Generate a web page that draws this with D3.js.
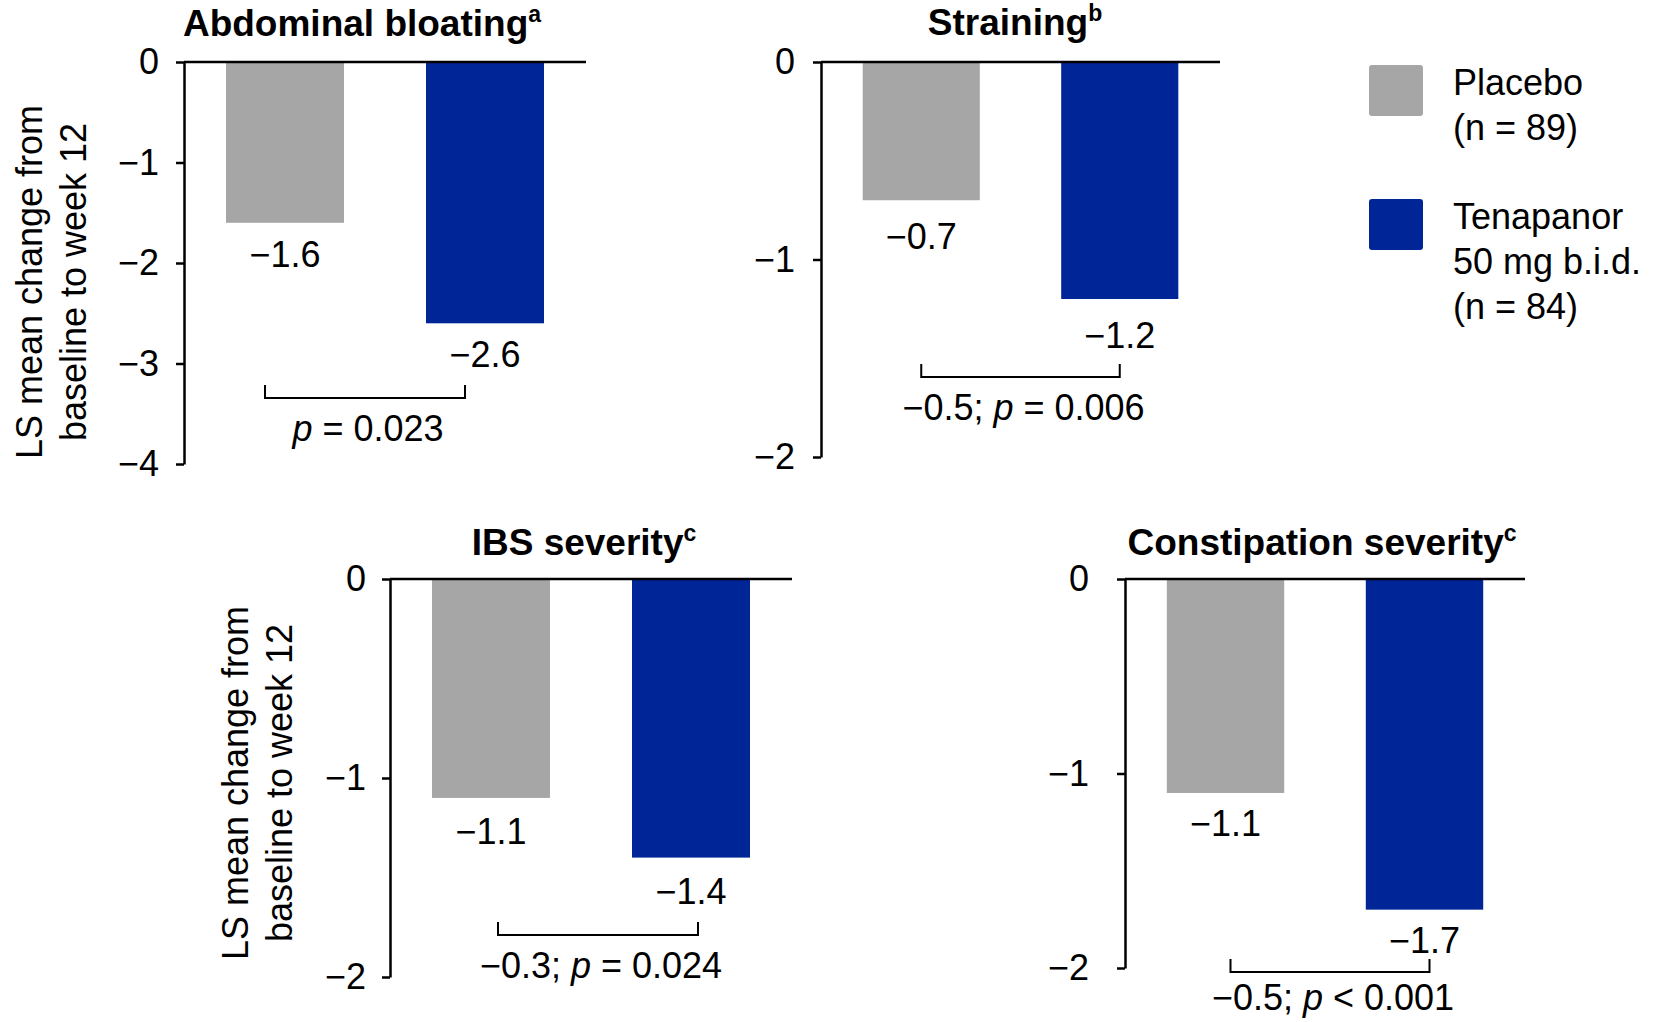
<!DOCTYPE html>
<html>
<head>
<meta charset="utf-8">
<script src="https://cdn.jsdelivr.net/npm/d3@7.9.0/dist/d3.min.js"></script>
<style>
  body { margin: 0; background: #fff; }
  svg text { font-family: "Liberation Sans", Arial, sans-serif; fill: #000; }
</style>
</head>
<body>
<svg id="chart" width="1662" height="1022"></svg>
<script>
// chart data
const panelTitles = ["Abdominal bloating", "Straining", "IBS severity", "Constipation severity"];
const footnotes = ["a", "b", "c", "c"];
const groups = ["Placebo", "Tenapanor"];
const placeboValues = [-1.6, -0.7, -1.1, -1.1];
const tenapanorValues = [-2.6, -1.2, -1.4, -1.7];
const axisMin = [-4, -2, -2, -2];
const tickValues = [[0, -1, -2, -3, -4], [0, -1, -2], [0, -1, -2], [0, -1, -2]];
const differences = [null, -0.5, -0.3, -0.5];
const pTexts = ["= 0.023", "= 0.006", "= 0.024", "< 0.001"];
const yLabelLines = ["LS mean change from", "baseline to week 12"];
const legendLabels = [["Placebo", "(n = 89)"], ["Tenapanor", "50 mg b.i.d.", "(n = 84)"]];
const colors = ["#a6a6a6", "#002596"];

// where each panel sits on the page
const layout = [
    { x0: 184, x1: 586, y0: 62, y1: 464, titleX: 362, titleY: 36, tickPad: 17, valGap: 44, yLabelX: 42, yLabelY: 282, bracketDx: -20, bracketY: 398, pGap: 43 },
    { x0: 821, x1: 1220, y0: 62, y1: 457, titleX: 1015, titleY: 35, tickPad: 18, valGap: 49, bracketDx: 0, bracketY: 377, pGap: 43 },
    { x0: 390, x1: 792, y0: 579, y1: 977, titleX: 584, titleY: 555, tickPad: 16, valGap: 46, yLabelX: 248, yLabelY: 783, bracketDx: 7, bracketY: 935, pGap: 43 },
    { x0: 1125, x1: 1525, y0: 579, y1: 968, titleX: 1322, titleY: 555, tickPad: 28, valGap: 43, bracketDx: 5, bracketY: 972, pGap: 38 }
];

const fmt = v => (v < 0 ? "\u2212" : "") + Math.abs(v);

const svg = d3.select("#chart");

panelTitles.forEach((title, i) => {
    const L = layout[i];
    const g = svg.append("g");

    const x = d3.scaleBand().domain(groups).range([L.x0, L.x1])
        .paddingInner(0.41).paddingOuter(0.21);
    const y = d3.scaleLinear().domain([0, axisMin[i]]).range([L.y0, L.y1]);

    const values = [placeboValues[i], tenapanorValues[i]];

    // bars
    g.selectAll("rect.bar")
        .data(values)
        .join("rect")
        .attr("class", "bar")
        .attr("x", (d, j) => x(groups[j]))
        .attr("y", y(0))
        .attr("width", x.bandwidth())
        .attr("height", d => y(d) - y(0))
        .attr("fill", (d, j) => colors[j]);

    // value labels under bars
    g.selectAll("text.val")
        .data(values)
        .join("text")
        .attr("class", "val")
        .attr("x", (d, j) => x(groups[j]) + x.bandwidth() / 2)
        .attr("y", d => y(d) + L.valGap)
        .attr("text-anchor", "middle")
        .style("font-size", "36px")
        .text(d => fmt(d));

    // y axis
    const axis = d3.axisLeft(y)
        .tickValues(tickValues[i])
        .tickFormat(fmt)
        .tickSize(8)
        .tickSizeOuter(0)
        .tickPadding(L.tickPad);
    const ag = g.append("g").attr("transform", `translate(${L.x0},0)`).call(axis);
    ag.select(".domain").attr("stroke", "#000").attr("stroke-width", 2.5);
    ag.selectAll(".tick line").attr("stroke", "#000").attr("stroke-width", 2.5);
    ag.selectAll(".tick text")
        .style("font-size", "36px")
        .style("font-family", "'Liberation Sans', Arial, sans-serif")
        .attr("fill", "#000");

    // zero line over the bars
    g.append("line")
        .attr("x1", L.x0).attr("x2", L.x1)
        .attr("y1", y(0)).attr("y2", y(0))
        .attr("stroke", "#000").attr("stroke-width", 2.5);

    // title
    const t = g.append("text")
        .attr("x", L.titleX).attr("y", L.titleY)
        .attr("text-anchor", "middle")
        .style("font-size", "37px")
        .style("font-weight", "bold");
    t.append("tspan").text(title);
    t.append("tspan").attr("dy", -14).style("font-size", "23px").text(footnotes[i]);

    // comparison bracket
    const bx1 = x(groups[0]) + x.bandwidth() / 2 + L.bracketDx;
    const bx2 = x(groups[1]) + x.bandwidth() / 2 + L.bracketDx;
    g.append("path")
        .attr("d", `M${bx1},${L.bracketY - 13}V${L.bracketY}H${bx2}V${L.bracketY - 13}`)
        .attr("fill", "none").attr("stroke", "#000").attr("stroke-width", 2);

    const pt = g.append("text")
        .attr("x", (bx1 + bx2) / 2 + 3).attr("y", L.bracketY + L.pGap)
        .attr("text-anchor", "middle")
        .style("font-size", "36px");
    if (differences[i] !== null) pt.append("tspan").text(fmt(differences[i]) + "; ");
    pt.append("tspan").style("font-style", "italic").text("p");
    pt.append("tspan").text(" " + pTexts[i]);

    // y axis title for left column
    if (L.yLabelX !== undefined) {
        yLabelLines.forEach((line, k) => {
            g.append("text")
                .attr("transform", `translate(${L.yLabelX + k * 44},${L.yLabelY}) rotate(-90)`)
                .attr("text-anchor", "middle")
                .style("font-size", "36px")
                .text(line);
        });
    }
});

// legend
const legendY = [65, 199];
const lg = svg.append("g");
legendLabels.forEach((lines, j) => {
    lg.append("rect")
        .attr("x", 1369).attr("y", legendY[j])
        .attr("width", 54).attr("height", 51)
        .attr("rx", 3)
        .attr("fill", colors[j]);
    lines.forEach((line, k) => {
        lg.append("text")
            .attr("x", 1453).attr("y", legendY[j] + 30 + k * 45)
            .style("font-size", "36px")
            .text(line);
    });
});
</script>
</body>
</html>
